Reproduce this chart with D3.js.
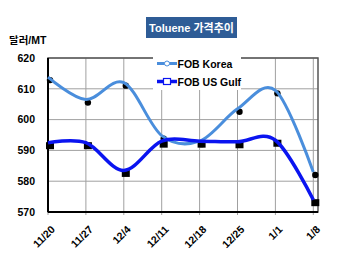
<!DOCTYPE html>
<html><head><meta charset="utf-8">
<script src="https://cdn.jsdelivr.net/npm/d3@7"></script>
<style>body{margin:0;background:#fff}svg{display:block}text{font-family:"Liberation Sans",Arial,"Noto Sans CJK KR",sans-serif;font-weight:bold}</style>
</head><body><svg id="c" width="350" height="260"></svg>
<script>
const categories = ["11/20","11/27","12/4","12/11","12/18","12/25","1/1","1/8"];
const korea = [613.8, 606.5, 612, 594.8, 593, 603.5, 609.5, 583];
const usGulf = [592.5, 592.5, 583.5, 593, 593, 592.8, 593.3, 574];
const yTicks = [570, 580, 590, 600, 610, 620];
const seriesNames = ["FOB Korea", "FOB US Gulf"];
const title = "Toluene 가격추이";
const unit = "달러/MT";

const svg = d3.select("#c");
const L = 48, R = 318, T = 58, B = 212;
const x = d3.scalePoint().domain(categories).range([L, 313.3]);
const y = d3.scaleLinear().domain([570, 620]).range([B, T]);

// title
svg.append("rect").attr("x",146).attr("y",17).attr("width",91).attr("height",21).attr("fill","#2E5C96");
svg.append("text").attr("x",191.5).attr("y",31.5).attr("text-anchor","middle").attr("fill","#fff").attr("font-size",11).text(title);
svg.append("text").attr("x",9).attr("y",44).attr("font-size",10.5).attr("fill","#000").text(unit);

// grid
const g = svg.append("g");
g.selectAll(".hg").data(yTicks).join("line").attr("x1",L).attr("x2",R).attr("y1",d=>y(d)).attr("y2",d=>y(d)).attr("stroke","#a0a0a0").attr("stroke-width",1);
g.selectAll(".vg").data(categories).join("line").attr("x1",d=>x(d)).attr("x2",d=>x(d)).attr("y1",T).attr("y2",B+3).attr("stroke","#a0a0a0").attr("stroke-width",1);
// border
g.append("rect").attr("x",L).attr("y",T).attr("width",R-L).attr("height",B-T).attr("fill","none").attr("stroke","#555").attr("stroke-width",1.5);
g.append("line").attr("x1",L).attr("x2",L).attr("y1",T).attr("y2",B).attr("stroke","#000").attr("stroke-width",2);
g.append("line").attr("x1",L).attr("x2",R).attr("y1",B).attr("y2",B).attr("stroke","#000").attr("stroke-width",2);

// y axis labels
const ya = svg.append("g").attr("transform",`translate(${L},0)`).call(d3.axisLeft(y).tickValues(yTicks).tickSize(0).tickPadding(13));
ya.select(".domain").remove();
ya.selectAll("text").attr("font-size",10.5).attr("fill","#000").attr("font-family","Liberation Sans, Arial").attr("font-weight","bold");

// x axis labels
const xa = svg.append("g").attr("transform",`translate(0,${B})`).call(d3.axisBottom(x).tickSize(0));
xa.select(".domain").remove();
xa.selectAll("text").attr("font-size",10.5).attr("fill","#000").attr("font-family","Liberation Sans, Arial").attr("font-weight","bold")
  .attr("text-anchor","end").attr("dy",0).attr("transform","translate(5,16) rotate(-45)");

// shadow markers
const sh = svg.append("g").attr("transform","translate(2,3)");
sh.selectAll(".sk").data(korea).join("circle").attr("cx",(d,i)=>x(categories[i])).attr("cy",d=>y(d)).attr("r",3.2).attr("fill","#000");
sh.selectAll(".su").data(usGulf).join("rect").attr("x",(d,i)=>x(categories[i])-4).attr("y",d=>y(d)-3.5).attr("width",8).attr("height",7).attr("fill","#000");

const line = d3.line().x((d,i)=>x(categories[i])).y(d=>y(d)).curve(d3.curveCardinal.tension(0));
svg.append("path").attr("d",line(korea)).attr("fill","none").attr("stroke","#4A8EDC").attr("stroke-width",3);
svg.append("path").attr("d",line(usGulf)).attr("fill","none").attr("stroke","#0A14F0").attr("stroke-width",3.5);

// legend
const lg = svg.append("g");
lg.append("rect").attr("x",153).attr("y",55).attr("width",88).attr("height",35).attr("fill","#fff");
lg.append("line").attr("x1",157).attr("x2",177).attr("y1",63.5).attr("y2",63.5).attr("stroke","#4A8EDC").attr("stroke-width",3);
lg.append("circle").attr("cx",167).attr("cy",63.5).attr("r",2.5).attr("fill","#fff").attr("stroke","#4A8EDC").attr("stroke-width",1);
lg.append("text").attr("x",177.5).attr("y",67.5).attr("font-size",10.5).attr("fill","#000").text(seriesNames[0]);
lg.append("line").attr("x1",157).attr("x2",177).attr("y1",81.5).attr("y2",81.5).attr("stroke","#0A14F0").attr("stroke-width",3.5);
lg.append("rect").attr("x",163.5).attr("y",78.5).attr("width",7).attr("height",6).attr("fill","#fff").attr("stroke","#0A14F0").attr("stroke-width",1.2);
lg.append("text").attr("x",177.5).attr("y",85.5).attr("font-size",10.5).attr("fill","#000").text(seriesNames[1]);
</script></body></html>
